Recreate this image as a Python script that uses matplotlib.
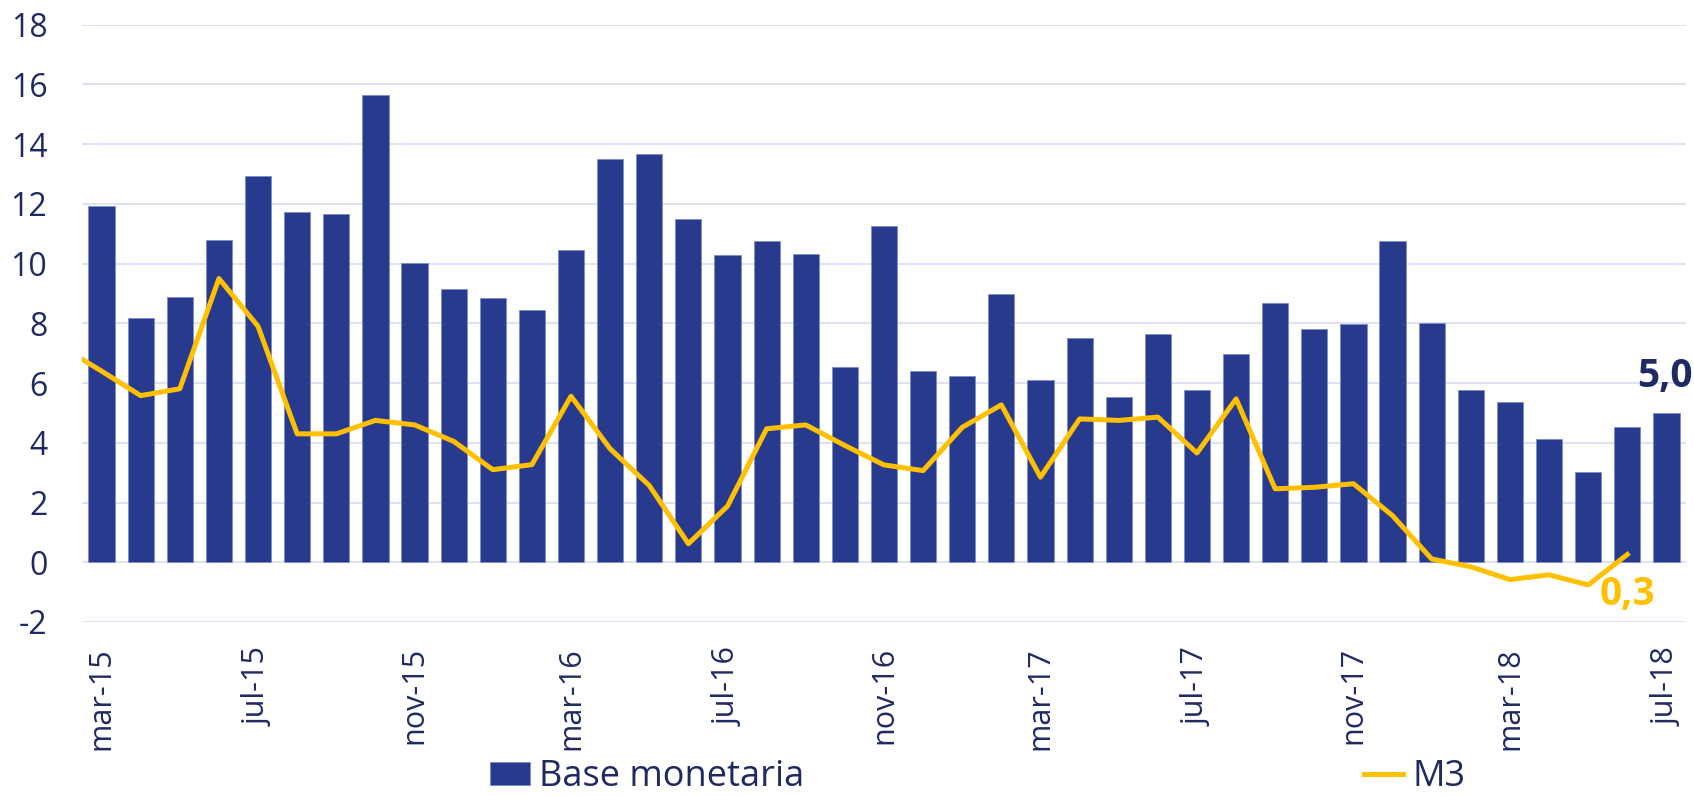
import matplotlib
matplotlib.use("Agg")
import matplotlib.pyplot as plt
import numpy as np

# ---- data ----
mes = ['ene', 'feb', 'mar', 'abr', 'may', 'jun', 'jul', 'ago', 'sep', 'oct', 'nov', 'dic']
# months feb-15 .. jul-18
months = []
for yy in range(15, 19):
    for m in mes:
        months.append(f"{m}-{yy}")
months = months[months.index('feb-15'):months.index('jul-18') + 1]

# Base monetaria: mar-15 .. jul-18
base_monetaria = [11.92, 8.19, 8.88, 10.8, 12.93, 11.73, 11.67, 15.63, 10.02, 9.16,
                  8.84, 8.44, 10.47, 13.49, 13.67, 11.49, 10.29, 10.76, 10.33, 6.53,
                  11.27, 6.4, 6.25, 8.98, 6.11, 7.5, 5.53, 7.65, 5.78, 6.98,
                  8.68, 7.8, 7.99, 10.76, 8.0, 5.78, 5.38, 4.13, 3.02, 4.52, 5.0]
# M3: feb-15 .. jun-18
m3 = [7.2, 6.4, 5.58, 5.81, 9.5, 7.9, 4.3, 4.3, 4.75, 4.6,
      4.05, 3.1, 3.27, 5.56, 3.8, 2.57, 0.62, 1.88, 4.47, 4.6,
      3.91, 3.26, 3.07, 4.52, 5.27, 2.85, 4.8, 4.75, 4.86, 3.66,
      5.47, 2.46, 2.51, 2.63, 1.56, 0.11, -0.15, -0.58, -0.42, -0.76, 0.26]
tick_labels = months[1::4]
yticks = list(range(-2, 19, 2))

# ---- style ----
NAVY = '#273A8E'
GOLD = '#FFC000'
TEXT = '#1F2A63'
GRID = '#D9DDF2'
FONT = ['Open Sans', 'DejaVu Sans']
plt.rcParams['font.family'] = FONT

fig = plt.figure(figsize=(16.94, 7.96), dpi=100)
ax = fig.add_axes([82 / 1694, 1 - 622 / 796, (1686 - 82) / 1694, (622 - 24.7) / 796])

x_all = np.arange(len(months))
x_base = x_all[1:1 + len(base_monetaria)]
x_m3 = x_all[:len(m3)]

bars = ax.bar(x_base, base_monetaria, width=0.67, color=NAVY, edgecolor='#7F8CC8',
              linewidth=0.6, zorder=2, label='Base monetaria')
line, = ax.plot(x_m3, m3, color=GOLD, lw=3.6, zorder=3, label='M3')

ax.set_xlim(0.5, len(months) - 0.5)
ax.set_ylim(-2, 18)
ax.set_yticks(yticks)
ax.set_yticklabels([str(v) for v in yticks])
ax.set_xticks(x_all[1::4])
ax.set_xticklabels(tick_labels, rotation=90)
ax.tick_params(axis='y', length=0, pad=25, labelsize=23, labelcolor=TEXT)
ax.tick_params(axis='x', length=0, pad=18, labelsize=22, labelcolor=TEXT)
ax.grid(axis='y', color=GRID, lw=1.2, zorder=0)
ax.set_axisbelow(True)
for s in ax.spines.values():
    s.set_visible(False)

# data labels
ax.annotate(f"{base_monetaria[-1]:.1f}".replace('.', ','), (x_base[-1], base_monetaria[-1]),
            xytext=(-1, 12), textcoords='offset points', ha='center', va='bottom',
            fontsize=28, fontweight='bold', color=TEXT, annotation_clip=False)
ax.annotate(f"{m3[-1]:.1f}".replace('.', ','), (x_m3[-1], m3[-1]),
            xytext=(0, -15), textcoords='offset points', ha='center', va='top',
            fontsize=28, fontweight='bold', color=GOLD, annotation_clip=False)

fig.legend([bars, line], ['Base monetaria', 'M3'], loc='center left',
           bbox_to_anchor=(490 / 1694, 0.024), ncol=2,
           frameon=False, fontsize=26, labelcolor=TEXT, handlelength=1.1,
           handleheight=0.6, handletextpad=0.25, columnspacing=15.5,
           borderpad=0, borderaxespad=0)

fig.savefig('out.png', dpi=100)
